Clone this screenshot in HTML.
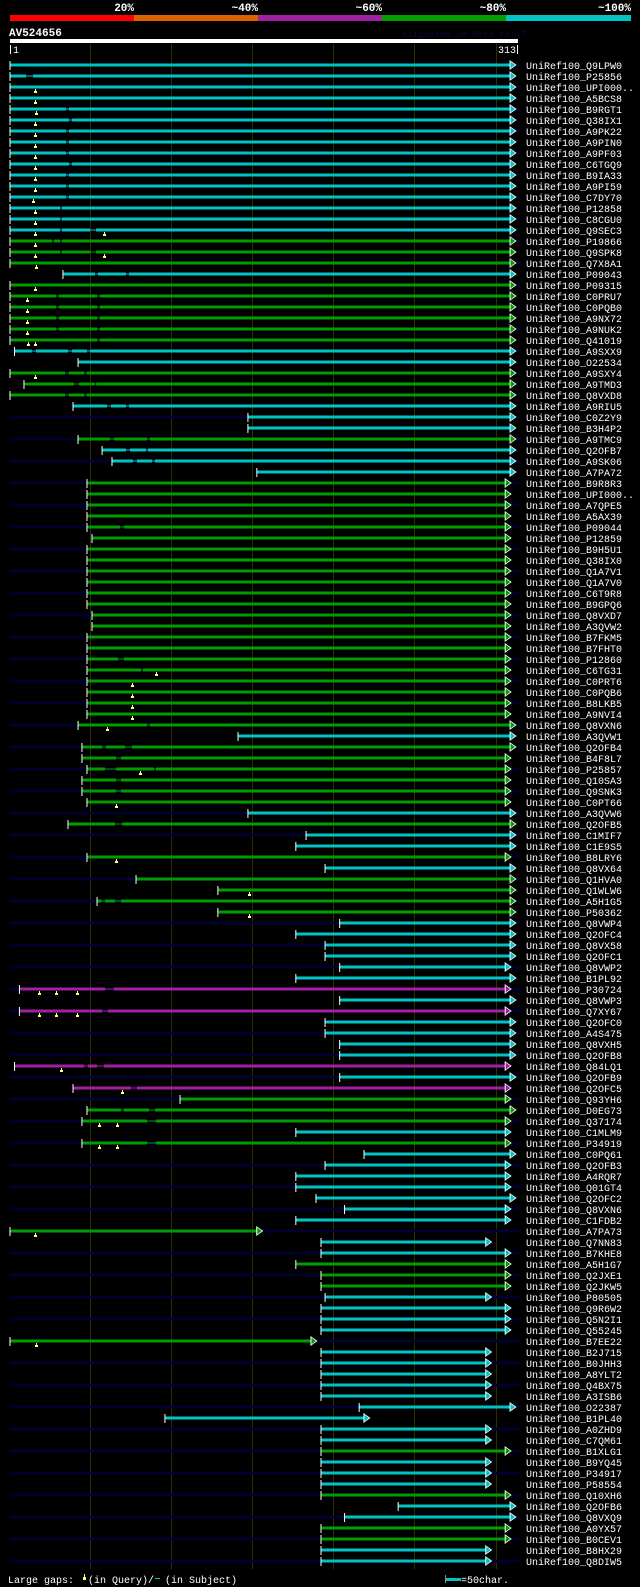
<!DOCTYPE html>
<html><head><meta charset="utf-8">
<style>
html,body{margin:0;padding:0;background:#000;}
svg{display:block;}
text{font-family:"Liberation Mono","DejaVu Sans Mono",monospace;}
</style></head>
<body>
<svg id="chart" width="640" height="1587" viewBox="0 0 640 1587" xmlns="http://www.w3.org/2000/svg">
<rect x="0" y="0" width="640" height="1587" fill="#000"/>
<g>
<rect x="10" y="15" width="124" height="6" fill="#ff0000"/>
<rect x="134" y="15" width="124" height="6" fill="#e06000"/>
<rect x="258" y="15" width="124" height="6" fill="#a020a0"/>
<rect x="382" y="15" width="124" height="6" fill="#00a000"/>
<rect x="506" y="15" width="125" height="6" fill="#00c4c4"/>
<g font-size="11" font-weight="bold" fill="#fff" text-anchor="end">
<text x="134" y="11">20%</text>
<text x="258" y="11">~40%</text>
<text x="382" y="11">~60%</text>
<text x="506" y="11">~80%</text>
<text x="631" y="11">~100%</text>
</g>
</g>
<text x="9" y="36" font-size="11" font-weight="bold" fill="#fff">AV524656</text>
<text x="402" y="37" font-size="9" fill="#0a0a40">AlignView.pm Beta rel.7</text>
<rect x="10" y="39" width="508" height="4" fill="#fff"/>
<rect x="10" y="45" width="1" height="9" fill="#fff"/>
<text x="13" y="53" font-size="10" fill="#fff">1</text>
<rect x="517" y="45" width="1" height="9" fill="#fff"/>
<text x="516" y="53" font-size="10" fill="#fff" text-anchor="end">313</text>
<g id="grid"></g>
<g id="stripes"></g>
<g id="rows"></g>
<g>
<text x="8" y="1583" font-size="10" fill="#fff">Large gaps:</text>
<rect x="83" y="1577" width="3" height="3" fill="#ffff80"/>
<rect x="84" y="1574" width="1" height="3" fill="#ffff80"/>
<text x="88" y="1583" font-size="10" fill="#fff">(in Query)/</text>
<rect x="155" y="1578" width="5" height="1" fill="#00c4c4"/>
<text x="165" y="1583" font-size="10" fill="#fff">(in Subject)</text>
<rect x="445" y="1578" width="16" height="3" fill="#00c4c4"/>
<rect x="445" y="1575" width="1" height="8" fill="#888"/>
<text x="461" y="1583" font-size="10" fill="#fff">=50char.</text>
</g>
</svg>
<script>
const names = ["Q9LPW0","P25856","UPI000..","A5BCS8","B9RGT1","Q38IX1","A9PK22","A9PIN0","A9PF03","C6TGQ9","B9IA33","A9PI59","C7DY70","P12858","C8CGU0","Q9SEC3","P19866","Q9SPK8","Q7X8A1","P09043","P09315","C0PRU7","C0PQB0","A9NX72","A9NUK2","Q41019","A9SXX9","O22534","A9SXY4","A9TMD3","Q8VXD8","A9RIU5","C0Z2Y9","B3H4P2","A9TMC9","Q2OFB7","A9SK06","A7PA72","B9R8R3","UPI000..","A7QPE5","A5AX39","P09044","P12859","B9H5U1","Q38IX0","Q1A7V1","Q1A7V0","C6T9R8","B9GPQ6","Q8VXD7","A3QVW2","B7FKM5","B7FHT0","P12860","C6TG31","C0PRT6","C0PQB6","B8LKB5","A9NVI4","Q8VXN6","A3QVW1","Q2OFB4","B4F8L7","P25857","Q10SA3","Q9SNK3","C0PT66","A3QVW6","Q2OFB5","C1MIF7","C1E9S5","B8LRY6","Q8VX64","Q1HVA0","Q1WLW6","A5H1G5","P50362","Q8VWP4","Q2OFC4","Q8VX58","Q2OFC1","Q8VWP2","B1PL92","P30724","Q8VWP3","Q7XY67","Q2OFC0","A4S475","Q8VXH5","Q2OFB8","Q84LQ1","Q2OFB9","Q2OFC5","Q93YH6","D0EG73","Q37174","C1MLM9","P34919","C0PQ61","Q2OFB3","A4RQR7","Q01GT4","Q2OFC2","Q8VXN6","C1FDB2","A7PA73","Q7NN83","B7KHE8","A5H1G7","Q2JXE1","Q2JKW5","P80505","Q9R6W2","Q5N2I1","Q55245","B7EE22","B2J715","B0JHH3","A8YLT2","Q4BX75","A3ISB6","O22387","B1PL40","A0ZHD9","C7QM61","B1XLG1","B9YQ45","P34917","P58554","Q10XH6","Q2OFB6","Q8VXQ9","A0YX57","B0CEV1","B8HX29","Q8DIW5"];
// query start residue of each hit
const qStart = [1,1,1,1,1,1,1,1,1,1,1,1,1,1,1,1,1,1,1,33.6,1,1,1,1,1,1,3.8,42.9,1,9.6,1,39.8,147.5,147.5,42.9,57.7,63.8,153,
48.4,48.4,48.4,48.4,48.4,51.5,48.4,48.4,48.4,48.4,48.4,48.4,51.5,51.5,48.4,48.4,48.4,48.4,48.4,48.4,48.4,48.4,
42.9,141.4,45.3,45.3,48.4,45.3,45.3,48.4,147.5,36.7,183.3,177,48.4,195,78.6,129,54.6,129,
204,177,195,195,204,177,6.8,204,6.8,195,195,204,204,3.8,204,39.8,105.7,48.4,45.3,177,45.3,219,195,177,
177,189.4,207,177,1,192.5,192.5,177,192.5,192.5,195,192.5,192.5,192.5,1,192.5,192.5,192.5,
192.5,192.5,216,96.4,192.5,192.5,192.5,192.5,192.5,192.5,192.5,240,207,192.5,192.5,192.5,192.5];
// query end residue (arrow tip)
const qEnd = [312,312,312,312,312,312,312,312,312,312,312,312,312,312,312,312,312,312,312,312,312,312,312,312,312,312,312,312,312,312,312,312,312,312,312,312,312,312,
309,309,309,309,309,309,309,309,309,309,309,309,309,309,309,309,309,309,309,309,309,309,
312,312,312,309,309,309,309,309,312,312,312,312,309,312,312,312,312,312,
312,312,312,312,309,312,309,312,309,312,312,312,312,309,312,309,309,312,309,309,309,312,309,309,
309,312,309,309,156,297,309,309,309,309,297,309,309,309,189.4,297,297,297,
297,297,312,222,297,297,309,297,297,297,309,312,312,309,309,297,297];
// identity class per hit: c ~100%, g ~80%, m ~60%
const identity = "ccccccccccccccccgggcggggggccgggcccgccc" +
"gggggggggggggggggggggg" +
"gcggggggcgccgcgggg" +
"ccccccmcmccccmcmgggcgccc" +
"ccccgccgggccccgcccccccccgcccgccggcc";
// subject gaps on the query axis [from, to]
const subjectGaps = {2:[[10.9,15.2]],5:[[35.5,37.3]],6:[[37.3,39.2]],7:[[35.5,37.3]],8:[[35.5,37.3]],9:[[35.5,37.3]],10:[[37.3,39.2]],11:[[35.5,37.3]],12:[[35.5,37.3]],13:[[35.5,37.3]],
14:[[31.8,33]],15:[[31.8,33]],16:[[31.8,33],[50.3,54]],17:[[26.9,28.1],[31.8,33]],18:[[31.8,33],[50.3,54]],20:[[53.3,55.2],[72.4,74.3]],
22:[[29.3,31.2],[54.6,56.4]],23:[[29.3,31.2],[54.6,56.4]],24:[[29.3,31.2],[54.6,56.4]],25:[[29.3,31.2],[54.6,56.4]],26:[[54.6,56.4]],
27:[[14.5,17],[36.7,39.2],[48.4,50.3]],29:[[34.9,37.3],[46.6,48.4]],30:[[40.4,43.5],[53.3,54]],31:[[34.9,37.3],[46.6,48.4]],32:[[60.7,63.2],[72.4,74.3]],
35:[[62.6,65],[85.4,87.2]],36:[[72.4,74.9],[84.7,86]],37:[[76.7,79.2],[88.4,90.3]],43:[[68.7,71.2]],55:[[67.5,71.2]],56:[[81.7,82.9]],
61:[[85.4,87.2]],63:[[57.7,60.1],[71.8,76.1]],64:[[66.3,69.3]],65:[[59.5,66.3],[89.7,90.9]],66:[[66.3,69.3]],67:[[66.3,69.3]],70:[[65.7,70]],77:[[57.3,59.5],[65.7,69.3]],
85:[[59.5,65]],87:[[57.7,61.3]],92:[[46.6,49],[54.6,58.9]],94:[[75.5,79.2]],96:[[69.3,71.2],[86.6,90.3]],97:[[85.4,90.9]],99:[[85.4,90.9]]};
// large gaps in query (marker positions)
const queryGaps = {3:[16.4],4:[16.4],5:[17],6:[16.4],7:[16.4],8:[16.4],9:[16.4],10:[16.4],11:[16.4],12:[16.4],13:[15.2],14:[16.4],15:[16.4],16:[16.4,58.9],17:[16.4],18:[16.4,58.9],19:[17],21:[16.4],
22:[11.5],23:[11.5],24:[11.5],25:[11.5],26:[12.1,16.4],29:[16.4],56:[90.9],57:[76.1],58:[76.1],59:[76.1],60:[76.1],61:[60.7],65:[81],68:[66.3],73:[66.3],76:[148],78:[148],
85:[18.9,29.3,42.3],87:[18.9,29.3,42.3],92:[32.4],94:[70],97:[55.8,66.9],99:[55.8,66.9],107:[16.4],117:[17]};
const gridTicks = [50,100,150,200,250,300];

const NS = "http://www.w3.org/2000/svg";
const COLORS = {c:"#00c4c4", g:"#009c00", m:"#a020a4"};
function xPos(p){ return 10 + (p - 1) * 1.624; }
function yPos(i){ return 65 + i * 11; }
function mk(tag, attrs, parent){
  const el = document.createElementNS(NS, tag);
  for (const k in attrs) el.setAttribute(k, attrs[k]);
  parent.appendChild(el);
  return el;
}
const grid = document.getElementById('grid');
gridTicks.forEach(t => {
  const l = mk('rect', {x: Math.round(xPos(t)), y: 44, width: 1, height: 1525, fill: '#2e2e00'}, grid);
  
  
});
const stripes = document.getElementById('stripes');
names.forEach((n, i) => {
  if (i % 2 === 0) {
    const s = mk('rect', {x: 10, y: yPos(i) - 1.5, width: 510, height: 3, fill: '#00002e'}, stripes);
    
    
  }
});
const rowsG = document.getElementById('rows');
names.forEach((n, i) => {
  const y = yPos(i);
  const col = COLORS[identity[i]] || COLORS.c;
  const g = mk('g', {}, rowsG);
  
  
  const x0 = xPos(qStart[i]);
  const tip = xPos(qEnd[i]);
  const x1 = tip - 5;
  const gaps = subjectGaps[i + 1] || [];
  let cur = x0;
  const segs = [];
  gaps.forEach(gp => { segs.push([cur, xPos(gp[0])]); cur = xPos(gp[1]); });
  segs.push([cur, x1]);
  segs.forEach(sg => {
    const r = mk('rect', {x: sg[0], y: y - 1.5, width: Math.max(0, sg[1] - sg[0]), height: 3, fill: col}, g);
    
    
  });
  gaps.forEach(gp => {
    const r = mk('rect', {x: xPos(gp[0]), y: y - 0.5, width: xPos(gp[1]) - xPos(gp[0]), height: 1, fill: col}, g);
    
    
  });
  const st = mk('rect', {x: x0 - 0.5, y: y - 4, width: 1, height: 9, fill: '#fff'}, g);
  
  
  const ao = mk('polygon', {points: (x1 - 0.5) + ',' + (y - 5) + ' ' + (tip + 1.5) + ',' + y + ' ' + (x1 - 0.5) + ',' + (y + 5), fill: '#fff'}, g);
  
  
  const ar = mk('polygon', {points: (x1 + 0.5) + ',' + (y - 3.5) + ' ' + tip + ',' + y + ' ' + (x1 + 0.5) + ',' + (y + 3.5), fill: col}, g);
  
  
  (queryGaps[i + 1] || []).forEach(q => {
    const qx = Math.round(xPos(q));
    const s1 = mk('rect', {x: qx, y: y + 2, width: 1, height: 3, fill: '#ffff80'}, g);
    
    
    const s2 = mk('rect', {x: qx - 1, y: y + 4, width: 3, height: 2, fill: '#ffff80'}, g);
    
    
  });
  const t = mk('text', {x: 526, y: y + 4, 'font-size': 10, fill: '#fff'}, g);
  t.textContent = 'UniRef100_' + n;
  
  
});
</script>
</body></html>
